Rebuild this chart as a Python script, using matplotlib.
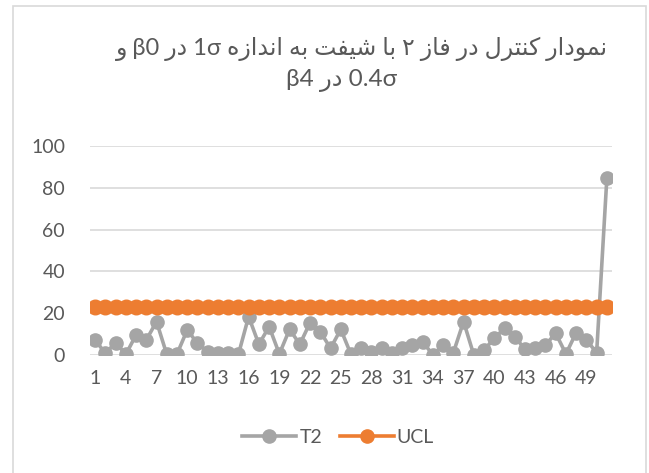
import matplotlib
matplotlib.use("Agg")
import matplotlib.pyplot as plt
from matplotlib.patches import Rectangle
from matplotlib.lines import Line2D

# ---------------- data ----------------
samples = list(range(1, 52))
t2 = [7.2, 0.8, 5.9, 0.3, 9.6, 7.2, 16.0, 0.3, 0.5, 12.0,
      5.6, 1.6, 0.8, 0.8, 0.3, 18.4, 5.1, 13.6, 0.5, 12.3,
      5.1, 15.5, 11.2, 3.2, 12.3, 0.3, 3.2, 1.6, 3.2, 0.8,
      3.2, 4.8, 6.4, 0.0, 4.8, 1.1, 16.0, 0.0, 2.4, 8.0,
      12.8, 8.8, 2.7, 3.5, 4.8, 10.4, 0.5, 10.7, 7.2, 1.1,
      84.8]
ucl = [23.0] * 51
xtick_values = list(range(1, 50, 3))
ytick_values = [0, 20, 40, 60, 80, 100]
series_names = ["T2", "UCL"]

# ---------------- simple Persian shaping (visual order) ----------------
FORMS = {  # isolated, final, initial, medial
    "\u0627": ("\uFE8D", "\uFE8E", None, None),
    "\u0628": ("\uFE8F", "\uFE90", "\uFE91", "\uFE92"),
    "\u062A": ("\uFE95", "\uFE96", "\uFE97", "\uFE98"),
    "\u062F": ("\uFEA9", "\uFEAA", None, None),
    "\u0631": ("\uFEAD", "\uFEAE", None, None),
    "\u0632": ("\uFEAF", "\uFEB0", None, None),
    "\u0634": ("\uFEB5", "\uFEB6", "\uFEB7", "\uFEB8"),
    "\u0641": ("\uFED1", "\uFED2", "\uFED3", "\uFED4"),
    "\u0644": ("\uFEDD", "\uFEDE", "\uFEDF", "\uFEE0"),
    "\u0645": ("\uFEE1", "\uFEE2", "\uFEE3", "\uFEE4"),
    "\u0646": ("\uFEE5", "\uFEE6", "\uFEE7", "\uFEE8"),
    "\u0647": ("\uFEE9", "\uFEEA", "\uFEEB", "\uFEEC"),
    "\u0648": ("\uFEED", "\uFEEE", None, None),
    "\u06A9": ("\uFB8E", "\uFB8F", "\uFB90", "\uFB91"),
    "\u06CC": ("\uFBFC", "\uFBFD", "\uFBFE", "\uFBFF"),
}


def shape_word(word):
    if not any(c in FORMS for c in word):
        return word
    out = []
    n = len(word)
    for i, c in enumerate(word):
        if c not in FORMS:
            out.append(c)
            continue
        prev = word[i - 1] if i > 0 else None
        nxt = word[i + 1] if i < n - 1 else None
        jp = prev in FORMS and FORMS[prev][2] is not None
        jn = nxt in FORMS and FORMS[c][2] is not None
        iso, fin, ini, med = FORMS[c]
        if jp and jn:
            out.append(med)
        elif jp:
            out.append(fin)
        elif jn:
            out.append(ini)
        else:
            out.append(iso)
    return "".join(reversed(out))


def rtl_line(text):
    words = text.split(" ")
    return " ".join(shape_word(w) for w in reversed(words))


title_line1 = "نمودار کنترل در فاز ۲ با شیفت به اندازه 1σ در β0 و"
title_line2 = "0.4σ در β4"

# ---------------- figure ----------------
W, H = 649, 473
fig = plt.figure(figsize=(W / 100, H / 100), dpi=100)
fig.patch.set_facecolor("white")

# chart border
fig.add_artist(Rectangle((13 / W, -0.02), 633 / W, (H - 6) / H + 0.02,
                         transform=fig.transFigure, fill=False,
                         edgecolor="#D9D9D9", lw=1.2))

ax = fig.add_axes([90 / W, 1 - 355 / H, (612 - 90) / W, (355 - 146) / H])

gray = "#A5A5A5"
orange = "#ED7D31"
label_color = "#595959"
font = ["Lato", "DejaVu Sans"]

ax.plot(samples, t2, color=gray, lw=2.6, marker="o", ms=9.5,
        markeredgecolor=gray, zorder=3, solid_capstyle="round")
ax.plot(samples, ucl, color=orange, lw=2.6, marker="o", ms=10.5,
        markeredgecolor=orange, zorder=4)

ax.set_xlim(0.5, 51.5)
ax.set_ylim(0, 100)
ax.set_yticks(ytick_values)
ax.set_xticks(xtick_values)
ax.set_yticklabels([str(v) for v in ytick_values], family=font,
                   fontsize=14, color=label_color)
ax.set_xticklabels([str(v) for v in xtick_values], family=font,
                   fontsize=14, color=label_color)
ax.tick_params(axis="both", length=0)
ax.tick_params(axis="y", pad=18)
ax.tick_params(axis="x", pad=11)
ax.grid(axis="y", color="#D9D9D9", lw=1.2)
ax.set_axisbelow(True)
for s in ax.spines.values():
    s.set_visible(False)

# title (two lines, right-to-left text)
fig.text(362 / W, 1 - 49 / H, rtl_line(title_line1), ha="center", va="center",
         fontsize=17, color=label_color, family=font)
fig.text(342 / W, 1 - 80 / H, rtl_line(title_line2), ha="center", va="center",
         fontsize=17.5, color=label_color, family=font)

# legend
handles = [Line2D([], [], color=gray, lw=2.6, marker="o", ms=9.5),
           Line2D([], [], color=orange, lw=2.6, marker="o", ms=9.5)]
fig.legend(handles, series_names, loc="center", bbox_to_anchor=(338 / W, 1 - 437 / H),
           ncol=2, frameon=False, handlelength=2.8, columnspacing=0.9,
           handletextpad=0.15, prop={"family": font, "size": 14},
           labelcolor=label_color)

fig.savefig("out.png", dpi=100, facecolor="white")
